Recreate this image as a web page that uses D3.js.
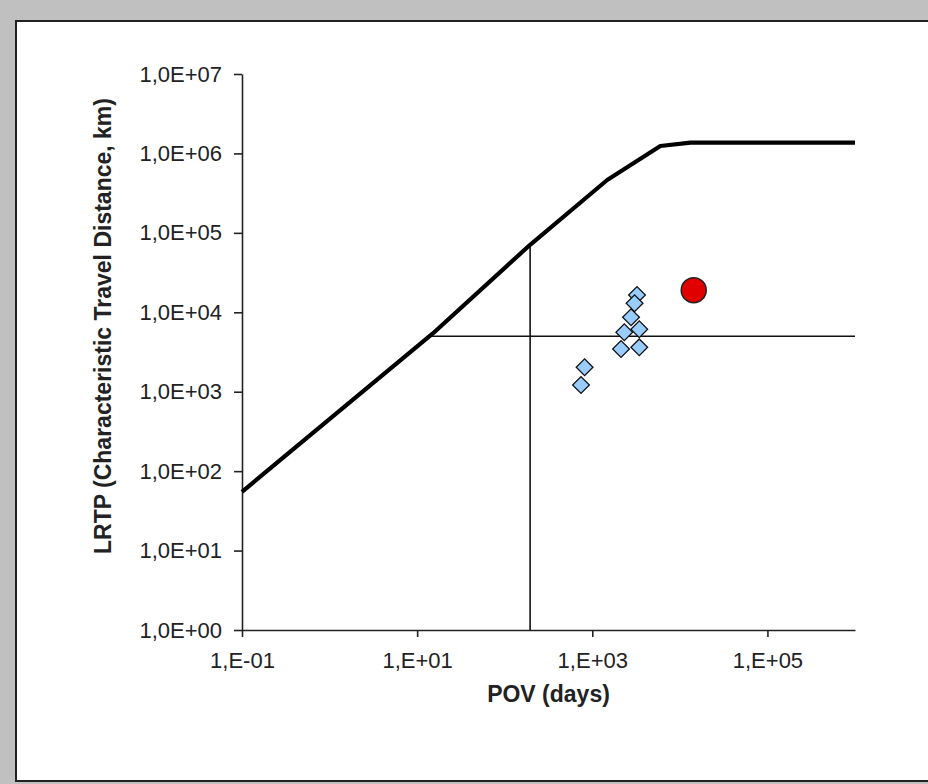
<!DOCTYPE html>
<html>
<head>
<meta charset="utf-8">
<script src="https://cdn.jsdelivr.net/npm/d3@7"></script>
<style>
  html, body { margin: 0; padding: 0; background: #c0c0c0; }
  svg { display: block; }
</style>
</head>
<body>
<svg id="chart" width="928" height="784"></svg>
<script>
// ---- Data ----
const curvePov  = [0.1, 15, 195, 1480, 5990, 13200, 1000000];
const curveLrtp = [55, 5370, 70800, 463000, 1240000, 1370000, 1370000];

const pointsPov  = [3240, 3040, 2770, 2320, 3440, 2130, 3440, 817, 743];
const pointsLrtp = [16500, 12970, 8650, 5600, 6110, 3450, 3620, 2030, 1215];

const highlightPov  = [14400];
const highlightLrtp = [19000];

const refPov  = 195;   // vertical reference line (days)
const refLrtp = 5000;  // horizontal reference line (km)

const xTicks = [0.1, 10, 1000, 100000];
const yTicks = [1, 10, 100, 1000, 10000, 100000, 1000000, 10000000];

const xTitle = "POV (days)";
const yTitle = "LRTP (Characteristic Travel Distance, km)";

// ---- Layout ----
const svg = d3.select("#chart");
svg.append("rect").attr("x", 0).attr("y", 0).attr("width", 928).attr("height", 784).attr("fill", "#c0c0c0");
svg.append("rect").attr("x", 16).attr("y", 21).attr("width", 1000).attr("height", 760)
  .attr("fill", "#ffffff").attr("stroke", "#222").attr("stroke-width", 2);

const x = d3.scaleLog().domain([0.1, 1e6]).range([242, 855]);
const y = d3.scaleLog().domain([1, 1e7]).range([630, 74]);

const fmtX = v => {
  const e = Math.round(Math.log10(v));
  return "1,E" + (e < 0 ? "-" : "+") + String(Math.abs(e)).padStart(2, "0");
};
const fmtY = v => {
  const e = Math.round(Math.log10(v));
  return "1,0E" + (e < 0 ? "-" : "+") + String(Math.abs(e)).padStart(2, "0");
};

const font = "'Liberation Sans', Arial, sans-serif";

const xAxis = svg.append("g").attr("transform", `translate(0,${y(1)})`)
  .call(d3.axisBottom(x).tickValues(xTicks).tickFormat(fmtX).tickSizeInner(7).tickSizeOuter(0).tickPadding(15));
const yAxis = svg.append("g").attr("transform", `translate(${x(0.1)},0)`)
  .call(d3.axisLeft(y).tickValues(yTicks).tickFormat(fmtY).tickSizeInner(8).tickSizeOuter(0).tickPadding(12));

[xAxis, yAxis].forEach(g => {
  g.select(".domain").attr("stroke", "#222").attr("stroke-width", 1.6);
  g.selectAll(".tick line").attr("stroke", "#222").attr("stroke-width", 1.6);
  g.selectAll(".tick text").attr("font-family", font).attr("font-size", 22).attr("fill", "#222");
});

// Axis titles
svg.append("text").attr("x", (x.range()[0] + x.range()[1]) / 2).attr("y", 702)
  .attr("text-anchor", "middle").attr("font-family", font).attr("font-weight", "bold")
  .attr("font-size", 23).attr("fill", "#222").text(xTitle);
svg.append("text").attr("transform", `translate(111,${(y.range()[0] + y.range()[1]) / 2 - 26}) rotate(-90)`)
  .attr("text-anchor", "middle").attr("font-family", font).attr("font-weight", "bold")
  .attr("font-size", 23).attr("fill", "#222").text(yTitle);

// ---- Reference lines ----
const curve = curvePov.map((p, i) => [p, curveLrtp[i]]);
function curveAtPov(p) {
  const lp = Math.log10(p);
  for (let i = 0; i < curve.length - 1; i++) {
    const a = curve[i], b = curve[i + 1];
    const la = Math.log10(a[0]), lb = Math.log10(b[0]);
    if (lp >= la && lp <= lb) {
      const t = (lp - la) / (lb - la);
      return Math.pow(10, Math.log10(a[1]) + t * (Math.log10(b[1]) - Math.log10(a[1])));
    }
  }
  return curve[curve.length - 1][1];
}
function curvePovAtLrtp(l) {
  const ll = Math.log10(l);
  for (let i = 0; i < curve.length - 1; i++) {
    const a = curve[i], b = curve[i + 1];
    const la = Math.log10(a[1]), lb = Math.log10(b[1]);
    if (ll >= la && ll <= lb && lb > la) {
      const t = (ll - la) / (lb - la);
      return Math.pow(10, Math.log10(a[0]) + t * (Math.log10(b[0]) - Math.log10(a[0])));
    }
  }
  return curve[0][0];
}

svg.append("line")
  .attr("x1", x(refPov)).attr("x2", x(refPov))
  .attr("y1", y(curveAtPov(refPov))).attr("y2", y(1))
  .attr("stroke", "#111").attr("stroke-width", 1.6);
svg.append("line")
  .attr("x1", x(curvePovAtLrtp(refLrtp))).attr("x2", x(1e6))
  .attr("y1", y(refLrtp)).attr("y2", y(refLrtp))
  .attr("stroke", "#111").attr("stroke-width", 1.6);

// ---- Curve ----
const line = d3.line().x(d => x(d[0])).y(d => y(d[1]));
svg.append("path").datum(curve).attr("d", line)
  .attr("fill", "none").attr("stroke", "#000").attr("stroke-width", 4.2)
  .attr("stroke-linejoin", "round");

// ---- Points ----
const pts = pointsPov.map((p, i) => [p, pointsLrtp[i]]);
svg.append("g").selectAll("path").data(pts).join("path")
  .attr("d", d3.symbol().type(d3.symbolSquare).size(140)())
  .attr("transform", d => `translate(${x(d[0])},${y(d[1])}) rotate(45)`)
  .attr("fill", "#99ccff").attr("stroke", "#111").attr("stroke-width", 1.3);

const hl = highlightPov.map((p, i) => [p, highlightLrtp[i]]);
svg.append("g").selectAll("circle").data(hl).join("circle")
  .attr("cx", d => x(d[0])).attr("cy", d => y(d[1])).attr("r", 12.5)
  .attr("fill", "#e00000").attr("stroke", "#222").attr("stroke-width", 1.5);
</script>
</body>
</html>
